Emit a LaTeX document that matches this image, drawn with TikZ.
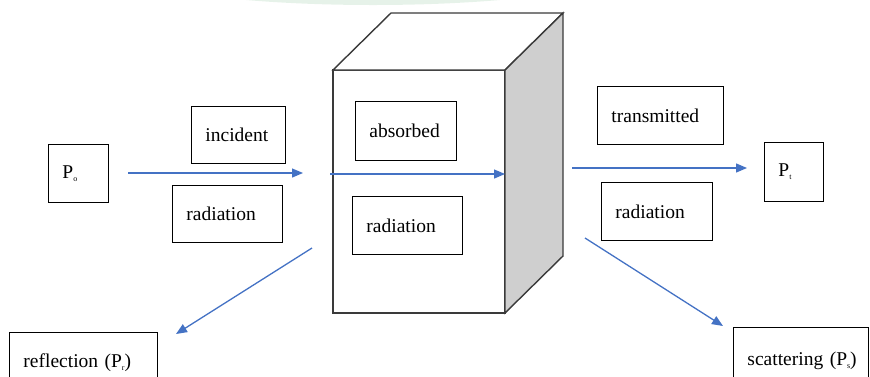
\documentclass[tikz,border=0pt]{standalone}
\usepackage{fontspec}
\setmainfont{LiberationSerif}[Extension=.ttf,UprightFont=*-Regular,BoldFont=*-Bold]
\newfontfamily\boxfont{LiberationSerif}[Extension=.ttf,UprightFont=*-Regular]
\usepackage{tikz}
\usetikzlibrary{arrows.meta}
\definecolor{beamblue}{HTML}{4472C4}
\definecolor{sidegray}{HTML}{CFCFCF}
\definecolor{edgegray}{HTML}{3A3A3A}
\definecolor{markgreen}{HTML}{E6F2E9}
\newcommand{\psub}[1]{P\raisebox{-3pt}{\fontsize{8}{8}\selectfont #1}}

\begin{document}
\begin{tikzpicture}[x=1pt,y=-1pt]
        %
        % `textbox' is used for every labelled rectangle.
        % `beam' is used for the blue radiation arrows.
        % `block' is used for the edges of the sample.
        \tikzstyle{textbox} = [draw=black,line width=0.9pt,anchor=north west,align=left,inner xsep=14pt,inner ysep=0pt,font=\boxfont\fontsize{19.5}{23}\selectfont]
        \tikzstyle{beam} = [draw=beamblue,line width=1.3pt,-{Triangle[length=11pt,width=9pt]}]
        \tikzstyle{block} = [draw=edgegray,line width=1.4pt,line join=miter]
        %
        \useasboundingbox (0,0) rectangle (870,376);
        % Faint mark at the top
        \fill[markgreen] (373,-35) ellipse [x radius=262, y radius=40];
        %
        % Sample block
        \draw[block,fill=white] (333,70) rectangle (505,313);
        \draw[block,fill=white] (333,70) -- (391,13) -- (563,13) -- (505,70) -- cycle;
        \draw[block,fill=sidegray] (505,70) -- (563,13) -- (563,256) -- (505,313) -- cycle;
        %
        % Left side
        \node[textbox,text width=32pt,minimum height=58pt] (p0) at (48,144) {\psub{o}};
        \node[textbox,text width=66pt,minimum height=57pt] (incident) at (191,106) {incident};
        \node[textbox,text width=82pt,minimum height=57pt] (radin) at (172,185) {radiation};
        \node[textbox,text width=120pt,minimum height=60pt] (reflection) at (9,332) {reflection~(\psub{r})};
        %
        % Inside the block
        \node[textbox,text width=73pt,minimum height=59pt] (absorbed) at (355,101) {absorbed};
        \node[textbox,text width=82pt,minimum height=58pt] (radabs) at (352,196) {radiation};
        %
        % Right side
        \node[textbox,text width=98pt,minimum height=58pt] (transmitted) at (597,86) {transmitted};
        \node[textbox,text width=83pt,minimum height=58pt] (radout) at (601,182) {radiation};
        \node[textbox,text width=31pt,minimum height=59pt] (pt) at (764,142) {\psub{t}};
        \node[textbox,text width=107pt,minimum height=66pt] (scattering) at (733,327) {scattering~(\psub{s})};
        %
        % Beam ends
        \coordinate (in1) at (128,173);
        \coordinate (in2) at (303,173);
        \coordinate (ab1) at (330,174);
        \coordinate (ab2) at (505,174);
        \coordinate (tr1) at (572,168);
        \coordinate (tr2) at (747,168);
        \coordinate (re1) at (312,248);
        \coordinate (re2) at (176,334);
        \coordinate (sc1) at (585,238);
        \coordinate (sc2) at (723,326);
        %
        % Beams
        \draw[beam] (in1) -- (in2);
        \draw[beam] (ab1) -- (ab2);
        \draw[beam] (tr1) -- (tr2);
        \draw[beam] (re1) -- (re2);
        \draw[beam] (sc1) -- (sc2);
        %
\end{tikzpicture}
\end{document}
